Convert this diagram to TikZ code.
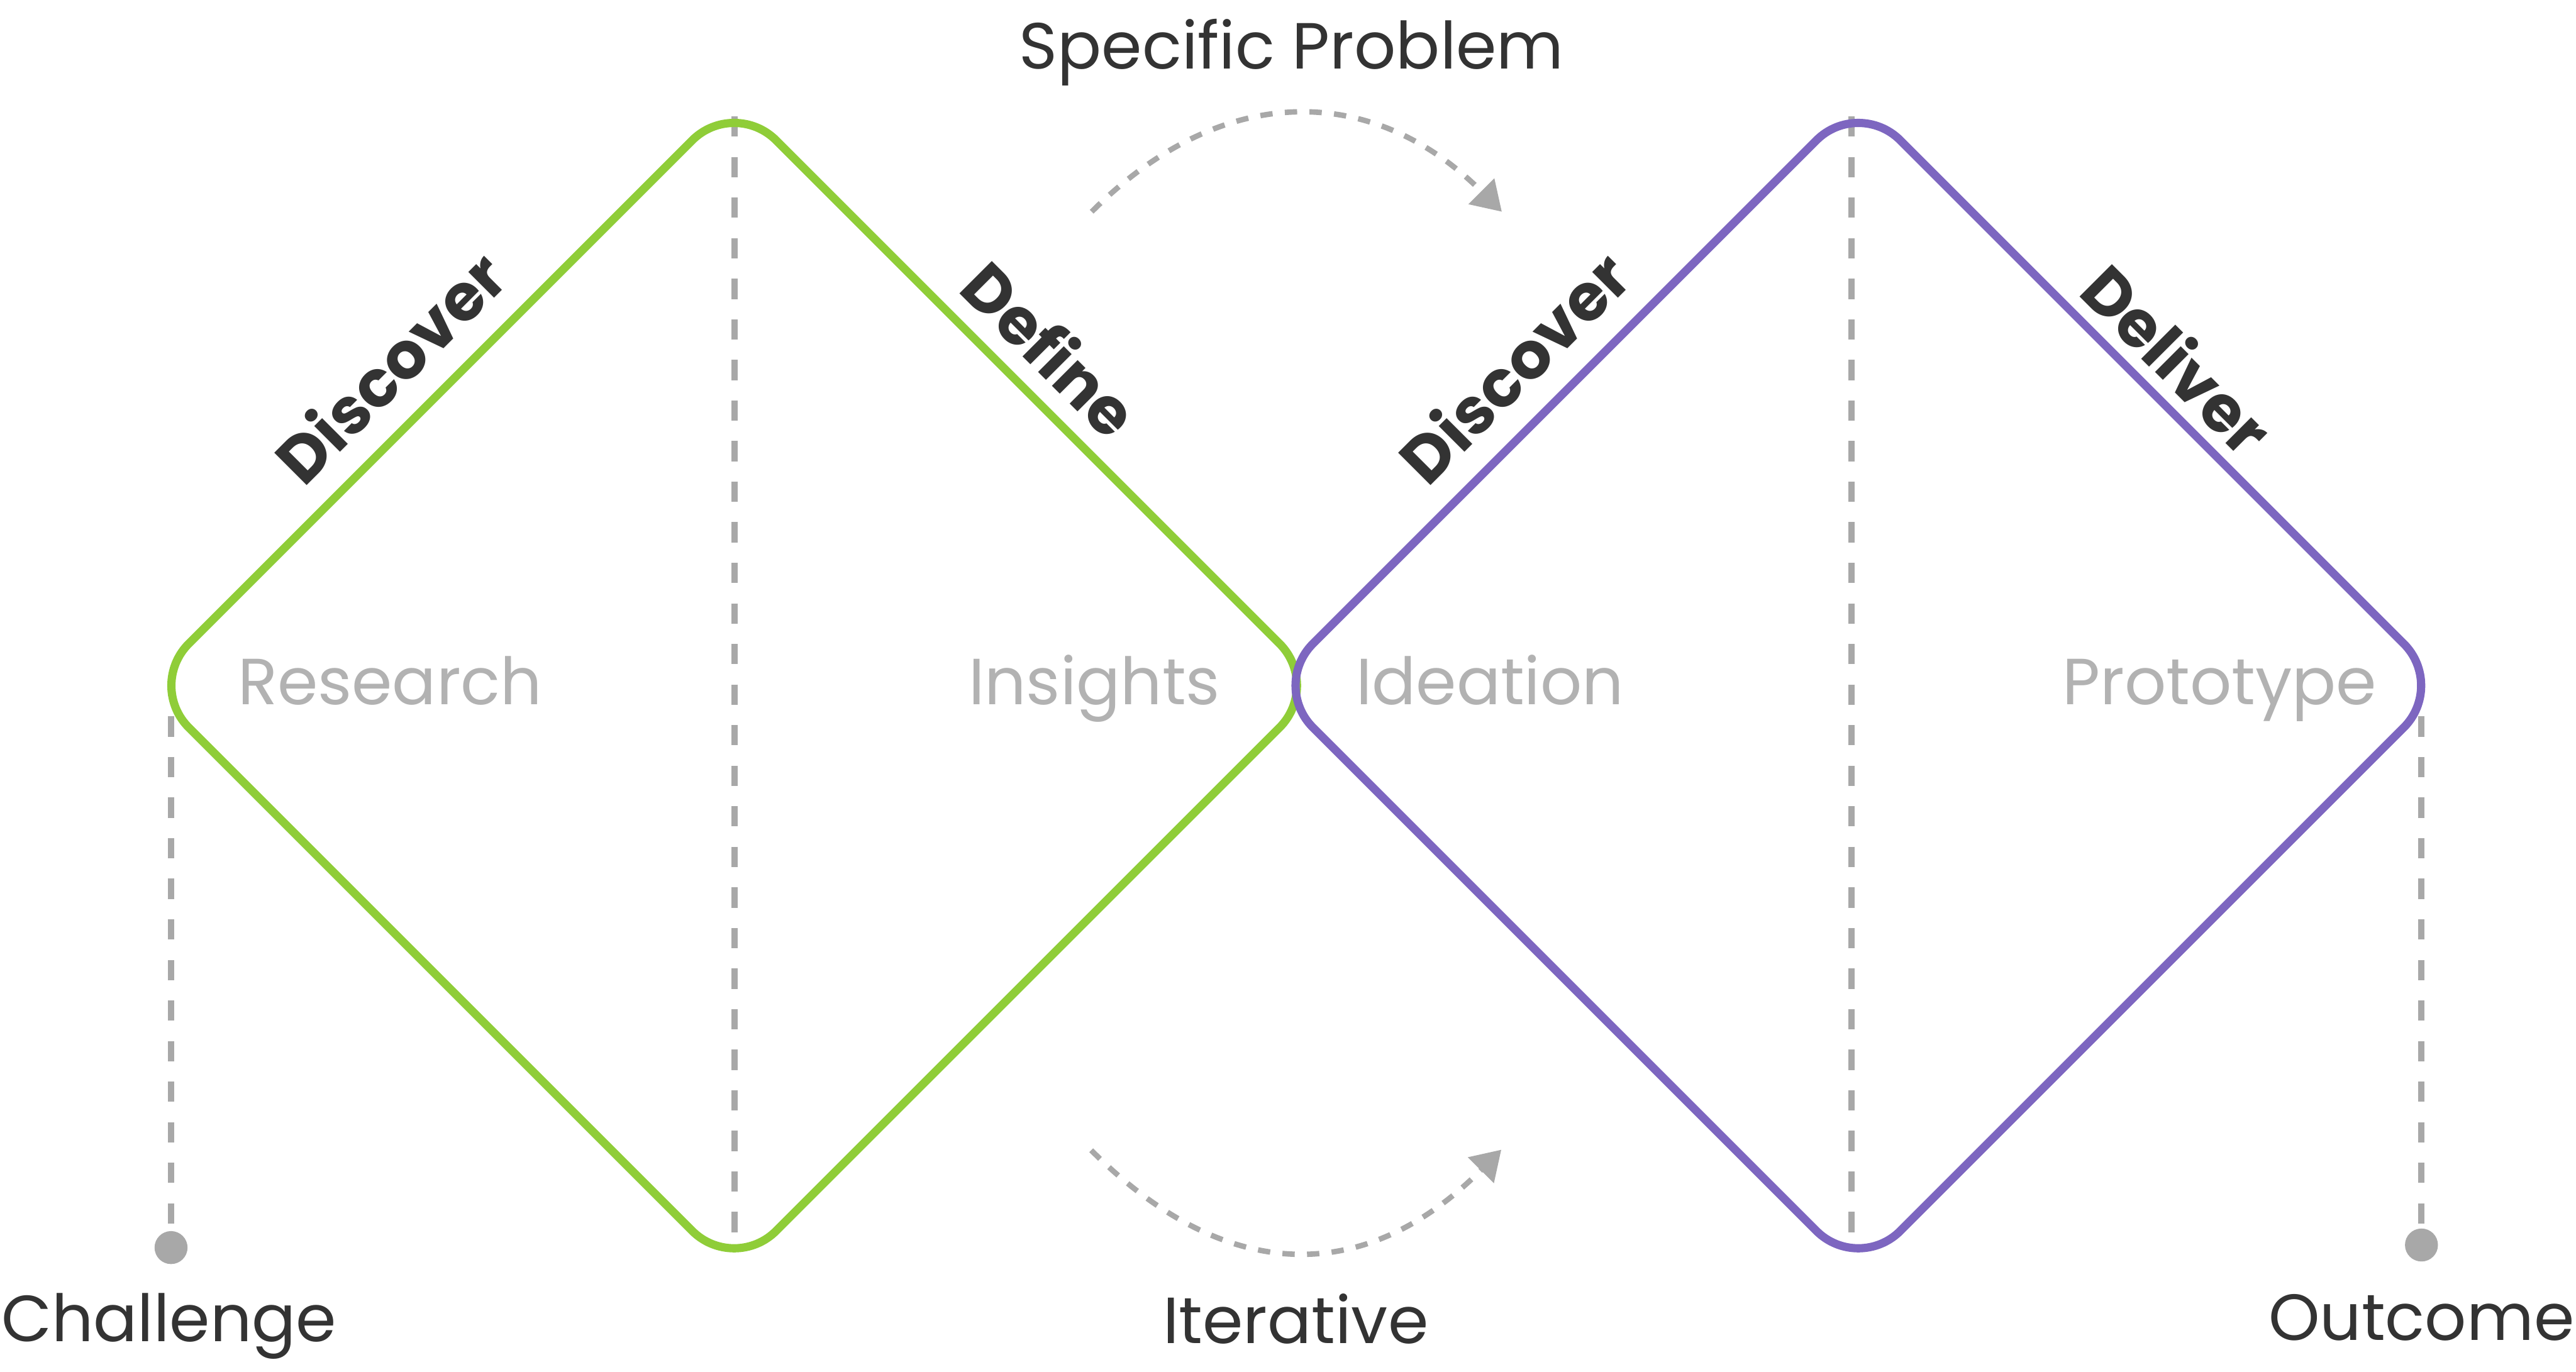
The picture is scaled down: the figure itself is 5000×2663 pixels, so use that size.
\documentclass[tikz,border=0pt]{standalone}
\usepackage{fontspec}
\setmainfont{Poppins}
\usetikzlibrary{arrows.meta,calc}
\definecolor{dgreen}{RGB}{143,205,56}
\definecolor{dpurple}{RGB}{125,102,192}
\definecolor{dashgray}{RGB}{168,168,168}
\definecolor{labelgray}{RGB}{178,178,178}
\definecolor{textdark}{RGB}{51,51,51}
\begin{document}
\begin{tikzpicture}[x=0.01cm,y=-0.01cm,
  diamondline/.style={line width=4.55pt, rounded corners=32.7pt, line join=round},
  guide/.style={draw=dashgray, line width=3.4pt, dash pattern=on 11.2pt off 11.2pt},
  flow/.style={draw=dashgray, line width=3pt, dash pattern=on 6.8pt off 6.8pt, -{Triangle[length=16pt,width=19.5pt]}},
  endpoint/.style={circle, fill=dashgray, minimum size=18.2pt, inner sep=0pt},
  phaselabel/.style={font=\fontsize{36}{40}\selectfont\bfseries, text=textdark, anchor=base, inner sep=0pt},
  stagelabel/.style={font=\fontsize{36}{40}\selectfont, text=labelgray, anchor=base, inner sep=0pt},
  caption/.style={font=\fontsize{36}{40}\selectfont, text=textdark, anchor=base, inner sep=0pt}]
\useasboundingbox (0,0) rectangle (5000,2663);

% diamond vertices
\coordinate (gL) at (285,1331);
\coordinate (gT) at (1425,191);
\coordinate (gR) at (2565,1331);
\coordinate (gB) at (1425,2471);
\coordinate (pL) at (2467,1331);
\coordinate (pT) at (3607,191);
\coordinate (pR) at (4747,1331);
\coordinate (pB) at (3607,2471);

% vertical dashed guides
\coordinate (gTop) at (1426,226);
\coordinate (gBot) at (1426,2424);
\coordinate (pTop) at (3594,226);
\coordinate (pBot) at (3594,2424);
\draw[guide] (gTop) -- (gBot);
\draw[guide] (pTop) -- (pBot);

% start / end
\coordinate (cStart) at (332,1312);
\coordinate (oStart) at (4700,1312);
\node[endpoint] (cDot) at (332,2422) {};
\node[endpoint] (oDot) at (4700,2417) {};
\draw[guide] (cStart) -- (cDot);
\draw[guide] (oStart) -- (oDot);

% diamonds
\draw[diamondline, draw=dgreen] ($(gL)!0.5!(gT)$) -- (gT) -- (gR) -- (gB) -- (gL) -- cycle;
\draw[diamondline, draw=dpurple] ($(pL)!0.5!(pT)$) -- (pT) -- (pR) -- (pB) -- (pL) -- cycle;

% curved arrows
\coordinate (aS) at (2119,411);
\coordinate (aE) at (2915,411);
\coordinate (bS) at (2118,2233);
\coordinate (bE) at (2914,2232);
\draw[flow] (aS) .. controls (2371,159) and (2663,159) .. (aE);
\draw[flow] (bS) .. controls (2381,2496) and (2651,2496) .. (bE);

% phase labels
\node[phaselabel, rotate=45] (disc1) at (791,747) {Discover};
\node[phaselabel, rotate=-45] (defi) at (2005,712) {Define};
\node[phaselabel, rotate=45] (disc2) at (2973,747) {Discover};
\node[phaselabel, rotate=-45] (deli) at (4192,732) {Deliver};

% stage labels
\node[stagelabel] (res) at (757,1368) {Research};
\node[stagelabel] (ins) at (2124,1368) {Insights};
\node[stagelabel] (ide) at (2892,1368) {Ideation};
\node[stagelabel] (pro) at (4308,1368) {Prototype};

% captions
\node[caption] (spec) at (2507,134) {Specific Problem};
\node[caption] (iter) at (2515,2608) {Iterative};
\node[caption] (chal) at (328,2604) {Challenge};
\node[caption] (outc) at (4700,2602) {Outcome};
\end{tikzpicture}
\end{document}
